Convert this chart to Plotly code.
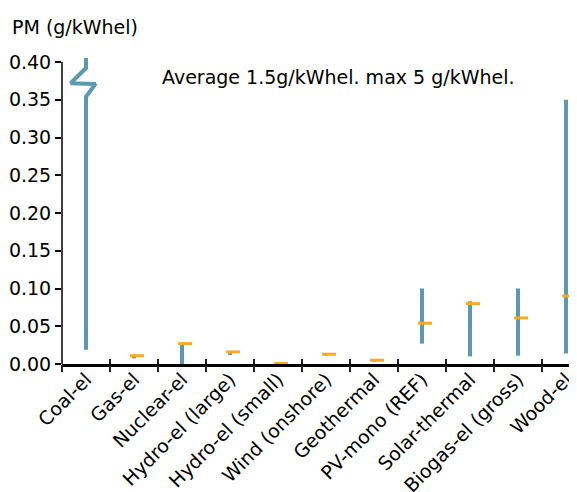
import plotly.graph_objects as go

categories = ["Coal-el", "Gas-el", "Nuclear-el", "Hydro-el (large)", "Hydro-el (small)",
              "Wind (onshore)", "Geothermal", "PV-mono (REF)", "Solar-thermal",
              "Biogas-el (gross)", "Wood-el"]
pm_min = [0.019, 0.0075, 0.0, 0.012, 0.0003, 0.011, 0.003, 0.027, 0.010, 0.011, 0.014]
pm_max = [5.0, 0.011, 0.027, 0.016, 0.0010, 0.013, 0.0055, 0.100, 0.083, 0.100, 0.350]
pm_avg = [1.5, 0.011, 0.027, 0.016, 0.0008, 0.013, 0.005, 0.054, 0.080, 0.061, 0.090]

y_ticks = [0.0, 0.05, 0.10, 0.15, 0.20, 0.25, 0.30, 0.35, 0.40]
y_ticktext = ["0.00", "0.05", "0.10", "0.15", "0.20", "0.25", "0.30", "0.35", "0.40"]

BLUE = "#5b99ae"
ORANGE = "#f7aa24"
FONT = "DejaVu Sans"

Y_TOP = 0.4053
X_RANGE = [-0.5, 10.396]
PLOT_W = 523

# range bars (lines), coal broken with zig-zag
bx, by = [], []
for i, (lo, hi) in enumerate(zip(pm_min, pm_max)):
    if hi > Y_TOP:
        bx += [i, i, i - 0.32, i + 0.2, i, i, None]
        by += [Y_TOP + 0.01, 0.392, 0.372, 0.371, 0.354, lo, None]
    else:
        bx += [i, i, None]
        by += [lo, hi, None]

fig = go.Figure()
fig.add_trace(go.Scatter(x=categories, y=[None] * len(categories), mode="markers",
                         showlegend=False, hoverinfo="skip"))
fig.add_trace(go.Scatter(x=categories, y=[None] * len(categories), mode="markers",
                         xaxis="x3", showlegend=False, hoverinfo="skip"))
fig.add_trace(go.Scatter(x=bx, y=by, mode="lines", xaxis="x2",
                         line=dict(color=BLUE, width=4), showlegend=False))
ax_x = [i + 0.065 for i, v in enumerate(pm_avg) if v <= Y_TOP]
ax_y = [v for v in pm_avg if v <= Y_TOP]
fig.add_trace(go.Scatter(x=ax_x, y=ax_y, mode="markers", xaxis="x2",
                         marker=dict(symbol="line-ew", size=10,
                                     line=dict(color=ORANGE, width=3)),
                         showlegend=False, cliponaxis=False))

fig.update_layout(
    width=577, height=492,
    margin=dict(l=54, r=0, t=50, b=136),
    plot_bgcolor="white", paper_bgcolor="white",
    font=dict(family=FONT, size=19, color="black"),
    xaxis=dict(type="category", categoryorder="array", categoryarray=categories,
               range=X_RANGE, tickson="boundaries", ticks="inside", ticklen=5,
               tickwidth=1.5, tickcolor="#222", tickangle=-45, automargin=False,
               ticklabelstandoff=-6, ticklabelshift=0,
               showline=True, linecolor="black", linewidth=3, showgrid=False,
               zeroline=False, tickfont=dict(size=19)),
    xaxis3=dict(type="category", categoryorder="array", categoryarray=categories,
                overlaying="x", anchor="y", range=X_RANGE, tickson="boundaries",
                ticks="outside", ticklen=7, tickwidth=1.5, tickcolor="#222",
                showticklabels=False, showline=False, showgrid=False, zeroline=False,
                automargin=False, side="bottom"),
    xaxis2=dict(type="linear", overlaying="x", range=X_RANGE, visible=False, anchor="y"),
    yaxis=dict(range=[0, Y_TOP], tickvals=y_ticks, ticktext=y_ticktext, automargin=False,
               ticks="outside", ticklen=6, tickwidth=1.5, tickcolor="black",
               showline=False, showgrid=False, zeroline=False, tickfont=dict(size=19)),
    shapes=[dict(type="line", xref="paper", yref="y", x0=0, x1=0, y0=0, y1=0.40,
                 line=dict(color="black", width=1.5), layer="above")],
    annotations=[
        dict(text="PM (g/kWhel)", xref="paper", yref="paper",
             x=(10 - 62) / PLOT_W, y=(364 - 27) / 306, xanchor="left", yanchor="middle",
             showarrow=False, font=dict(size=19)),
        dict(text="Average 1.5g/kWhel. max 5 g/kWhel.", xref="paper", yref="paper",
             x=(160 - 62) / PLOT_W, y=(364 - 77) / 306, xanchor="left", yanchor="middle",
             showarrow=False, font=dict(size=19)),
    ],
)

fig.write_html("out.html")
